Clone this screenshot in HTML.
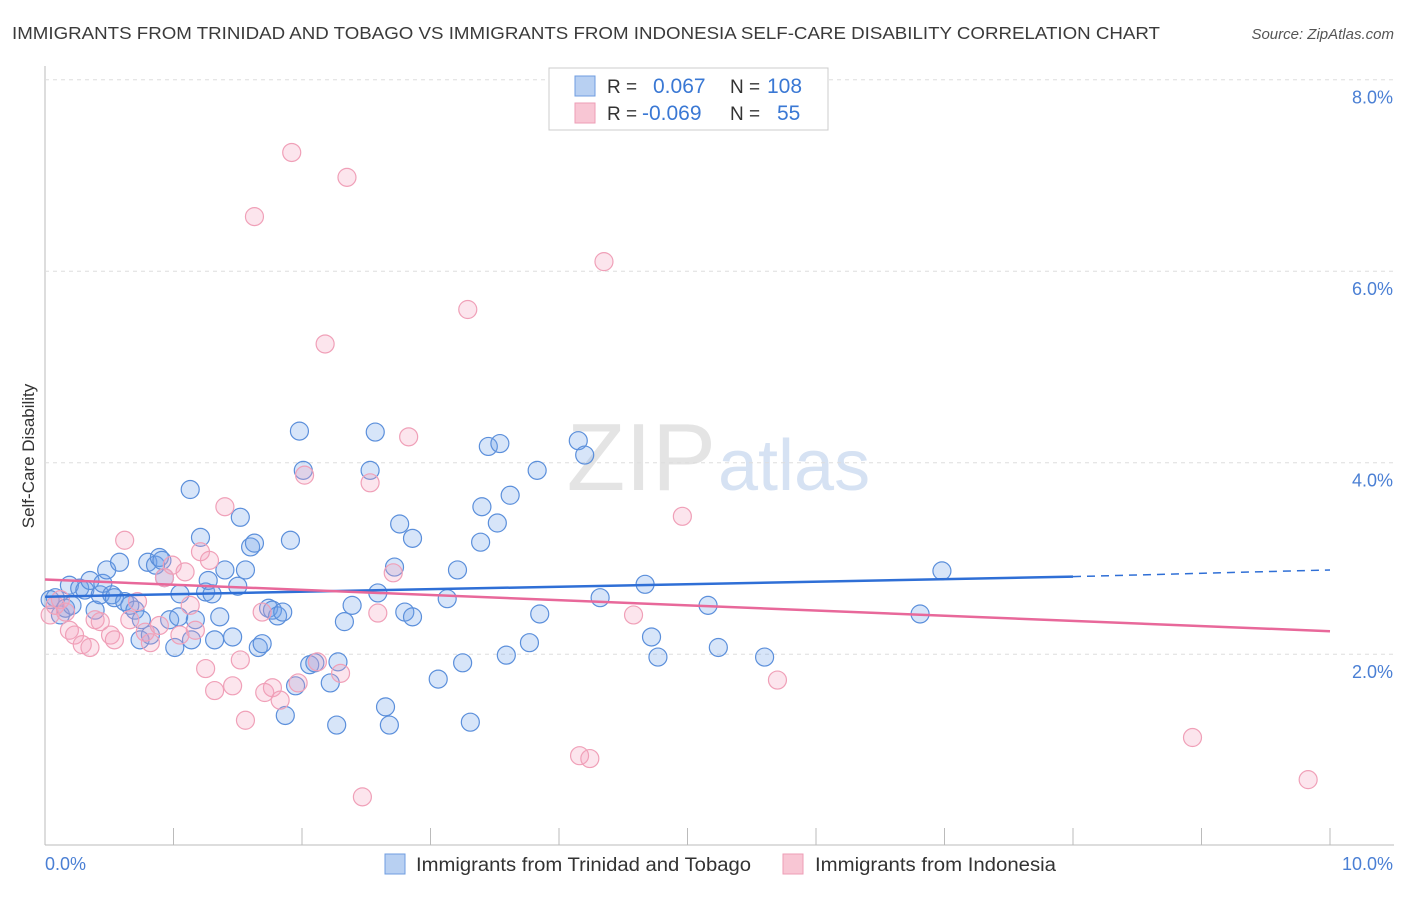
<!DOCTYPE html>
<html><head><meta charset="utf-8"><style>
body{margin:0;background:#fff;font-family:"Liberation Sans",sans-serif}
svg text{font-family:"Liberation Sans",sans-serif}
</style></head><body>
<svg id="c" width="1406" height="892" viewBox="0 0 1406 892">
<text x="12" y="39" font-size="17.5" fill="#3a3a3a" textLength="1148" lengthAdjust="spacingAndGlyphs">IMMIGRANTS FROM TRINIDAD AND TOBAGO VS IMMIGRANTS FROM INDONESIA SELF-CARE DISABILITY CORRELATION CHART</text>
<text x="1394" y="39" font-size="15" fill="#555" font-style="italic" text-anchor="end">Source: ZipAtlas.com</text>
<text x="716" y="490" font-size="96" fill="#e4e4e4" text-anchor="end" font-family="Liberation Serif">ZIP</text>
<text x="718" y="490" font-size="72" fill="#d6e2f3">atlas</text>
<g id="grid"></g>
<g id="pts"></g>
<g id="lines"></g>
<text x="0" y="0" transform="translate(34,456) rotate(-90)" font-size="17" fill="#333" text-anchor="middle">Self-Care Disability</text>
<text x="45" y="870" font-size="18" fill="#4a7fd4">0.0%</text>
<text x="1393" y="870" font-size="18" fill="#4a7fd4" text-anchor="end">10.0%</text>
<g>
<rect x="549" y="68" width="279" height="62" fill="#fff" stroke="#ccc"/>
<rect x="575" y="76" width="20" height="20" fill="#b8d0f2" stroke="#6f9de0"/>
<rect x="575" y="103" width="20" height="20" fill="#f8c6d4" stroke="#ee9db6"/>
<text x="607" y="93" font-size="19" fill="#333">R =</text>
<text x="653" y="93" font-size="21" fill="#3a78d4">0.067</text>
<text x="730" y="93" font-size="19" fill="#333">N =</text>
<text x="767" y="93" font-size="21" fill="#3a78d4">108</text>
<text x="607" y="120" font-size="19" fill="#333">R =</text>
<text x="642" y="120" font-size="21" fill="#3a78d4">-0.069</text>
<text x="730" y="120" font-size="19" fill="#333">N =</text>
<text x="777" y="120" font-size="21" fill="#3a78d4">55</text>
</g>
<g>
<rect x="385" y="854" width="20" height="20" fill="#b8d0f2" stroke="#6f9de0"/>
<text x="416" y="871" font-size="19" fill="#333" textLength="335" lengthAdjust="spacingAndGlyphs">Immigrants from Trinidad and Tobago</text>
<rect x="783" y="854" width="20" height="20" fill="#f8c6d4" stroke="#ee9db6"/>
<text x="815" y="871" font-size="19" fill="#333" textLength="241" lengthAdjust="spacingAndGlyphs">Immigrants from Indonesia</text>
</g>
</svg>
<script>
const yTicks=[2,4,6,8];
const yTickLabels=["2.0%","4.0%","6.0%","8.0%"];
const xTicks=[0,1,2,3,4,5,6,7,8,9,10];
const blueX=[.04,.08,.12,.16,.19,.21,.27,.31,.35,.39,.43,.45,.48,.52,.54,.58,.62,.66,.70,.74,.75,.80,.82,.86,.89,.91,.93,.97,1.01,1.04,1.05,1.13,1.14,1.17,1.21,1.25,1.27,1.30,1.32,1.36,1.40,1.46,1.50,1.52,1.56,1.60,1.63,1.66,1.69,1.74,1.77,1.81,1.85,1.87,1.91,1.95,1.98,2.01,2.06,2.10,2.22,2.27,2.28,2.33,2.39,2.53,2.57,2.59,2.65,2.68,2.72,2.76,2.80,2.86,2.86,3.06,3.13,3.21,3.25,3.31,3.39,3.40,3.45,3.52,3.54,3.59,3.62,3.77,3.83,3.85,4.15,4.20,4.32,4.67,4.72,4.77,5.16,5.24,5.60,6.81,6.98];
const blueY=[2.57,2.59,2.41,2.48,2.72,2.51,2.69,2.67,2.77,2.46,2.62,2.74,2.88,2.62,2.59,2.96,2.55,2.51,2.46,2.15,2.36,2.96,2.20,2.93,3.01,2.98,2.80,2.36,2.07,2.39,2.63,3.72,2.15,2.36,3.22,2.65,2.77,2.63,2.15,2.39,2.88,2.18,2.71,3.43,2.88,3.12,3.16,2.07,2.11,2.48,2.46,2.40,2.44,1.36,3.19,1.67,4.33,3.92,1.89,1.91,1.70,1.26,1.92,2.34,2.51,3.92,4.32,2.64,1.45,1.26,2.91,3.36,2.44,2.39,3.21,1.74,2.58,2.88,1.91,1.29,3.17,3.54,4.17,3.37,4.20,1.99,3.66,2.12,3.92,2.42,4.23,4.08,2.59,2.73,2.18,1.97,2.51,2.07,1.97,2.42,2.87];
const pinkX=[.04,.08,.12,.16,.19,.23,.29,.35,.39,.43,.51,.54,.62,.66,.72,.78,.82,.89,.93,.99,1.05,1.09,1.13,1.17,1.21,1.25,1.28,1.32,1.40,1.46,1.52,1.56,1.63,1.69,1.71,1.77,1.83,1.92,1.97,2.02,2.12,2.18,2.30,2.35,2.47,2.53,2.59,2.71,2.83,3.29,4.16,4.24,4.35,4.58,4.96,5.70,8.93,9.83];
const pinkY=[2.41,2.51,2.57,2.44,2.25,2.20,2.10,2.07,2.36,2.34,2.20,2.15,3.19,2.36,2.55,2.23,2.12,2.30,2.80,2.93,2.20,2.86,2.51,2.25,3.07,1.85,2.98,1.62,3.54,1.67,1.94,1.31,6.57,2.44,1.60,1.65,1.52,7.24,1.70,3.87,1.92,5.24,1.80,6.98,0.51,3.79,2.43,2.85,4.27,5.60,0.94,0.91,6.10,2.41,3.44,1.73,1.13,0.69];
const blueTrend=[2.60,2.81,2.88]; // at x=0, x=8, x=10
const pinkTrend=[2.78,2.24]; // at x=0, x=10
const NS="http://www.w3.org/2000/svg";
const X=v=>45+v*128.5, Y=v=>845.7-v*95.75;
function mk(t,a,p){const e=document.createElementNS(NS,t);for(const k in a)e.setAttribute(k,a[k]);p.appendChild(e);return e;}
const grid=document.getElementById('grid'),pts=document.getElementById('pts'),lines=document.getElementById('lines');
let ax=mk('line',{x1:45,y1:66,x2:45,y2:845,stroke:'#bbb','stroke-width':1},grid);


let bx=mk('line',{x1:45,y1:845,x2:1394,y2:845,stroke:'#bbb','stroke-width':1},grid);


yTicks.forEach((t,i)=>{
 const g=mk('line',{x1:45,y1:Y(t),x2:1394,y2:Y(t),stroke:'#ddd','stroke-dasharray':'4,4'},grid);
 
 
 const l=mk('text',{x:1393,y:Y(t)+24,'font-size':18,fill:'#4a7fd4','text-anchor':'end'},grid);
 l.textContent=yTickLabels[i];
 
 
});
xTicks.forEach(t=>{
 const k=mk('line',{x1:X(t),y1:828,x2:X(t),y2:845,stroke:'#bbb'},grid);
 
 
});
blueX.forEach((v,i)=>{
 const c=mk('circle',{cx:X(v),cy:Y(blueY[i]),r:9,fill:'rgba(110,160,235,0.28)',stroke:'#5b8fdb','stroke-width':1.2},pts);
 
 
});
pinkX.forEach((v,i)=>{
 const c=mk('circle',{cx:X(v),cy:Y(pinkY[i]),r:9,fill:'rgba(245,160,190,0.28)',stroke:'#f0a0b8','stroke-width':1.2},pts);
 
 
});
let b1=mk('line',{x1:X(0),y1:Y(blueTrend[0]),x2:X(8),y2:Y(blueTrend[1]),stroke:'#2f6fd6','stroke-width':2.5},lines);


let b2=mk('line',{x1:X(8),y1:Y(blueTrend[1]),x2:X(10),y2:Y(blueTrend[2]),stroke:'#2f6fd6','stroke-width':1.5,'stroke-dasharray':'8,6'},lines);


let p1=mk('line',{x1:X(0),y1:Y(pinkTrend[0]),x2:X(10),y2:Y(pinkTrend[1]),stroke:'#e8689a','stroke-width':2.5},lines);


</script>
</body></html>
